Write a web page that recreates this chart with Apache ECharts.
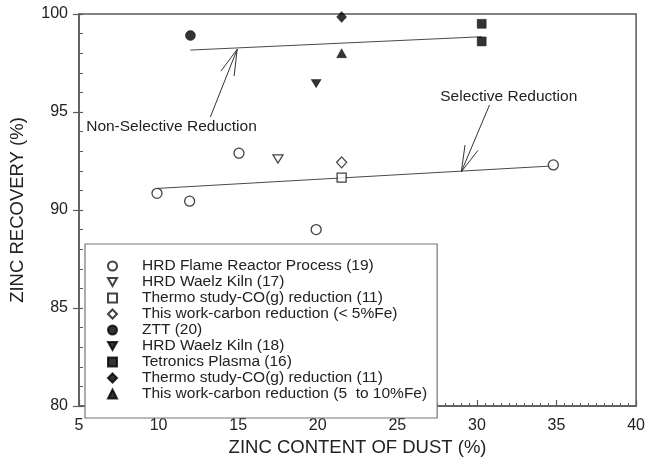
<!DOCTYPE html>
<html>
<head>
<meta charset="utf-8">
<script src="https://cdn.jsdelivr.net/npm/echarts@6/dist/echarts.min.js"></script>
<style>
  html, body { margin: 0; padding: 0; background: #fff; }
  #chart { width: 648px; height: 465px; }
</style>
</head>
<body>
<div id="chart"></div>
<script>
const FONT = '"Liberation Sans", Arial, Helvetica, sans-serif';
const AXIS_COLOR = '#5a5a5a';
const DOWN_TRIANGLE = 'path://M0,0 L10,0 L5,9 Z';

// Legend entries, in display order
const legendLabels = [
  'HRD Flame Reactor Process (19)',
  'HRD Waelz Kiln (17)',
  'Thermo study-CO(g) reduction (11)',
  'This work-carbon reduction (< 5%Fe)',
  'ZTT (20)',
  'HRD Waelz Kiln (18)',
  'Tetronics Plasma (16)',
  'Thermo study-CO(g) reduction (11)',
  'This work-carbon reduction (5  to 10%Fe)'
];
const markerShapes  = ['circle', DOWN_TRIANGLE, 'rect', 'diamond', 'circle', DOWN_TRIANGLE, 'rect', 'diamond', 'triangle'];
const markerFilled  = [false, false, false, false, true, true, true, true, true];
const markerSizes   = [[10, 10], [10, 9], [9, 9], [10, 11], [10, 10], [10, 9], [9, 9], [10, 11], [10, 9]];

// [zinc content of dust %, zinc recovery %]
const hrdFlameReactor   = [[9.9, 90.85], [11.95, 90.45], [15.05, 92.9], [19.9, 89.0], [34.8, 92.3]];
const hrdWaelz17        = [[17.5, 92.6]];
const thermoCOopen      = [[21.5, 91.65]];
const thisWorkLowFe     = [[21.5, 92.43]];
const ztt               = [[12.0, 98.9]];
const hrdWaelz18        = [[19.9, 96.45]];
const tetronicsPlasma   = [[30.3, 99.5], [30.3, 98.6]];
const thermoCOfilled    = [[21.5, 99.85]];
const thisWorkMidFe     = [[21.5, 98.0]];

const seriesPoints = [hrdFlameReactor, hrdWaelz17, thermoCOopen, thisWorkLowFe,
                      ztt, hrdWaelz18, tetronicsPlasma, thermoCOfilled, thisWorkMidFe];

// Fitted trend lines
const nonSelectiveFit = [[12.0, 98.16], [30.3, 98.84]];
const selectiveFit    = [[9.9, 91.1], [34.8, 92.25]];

// Callouts: [tipX, tipY, tailX, tailY, textX, textY]
const calloutText = ['Non-Selective Reduction', 'Selective Reduction'];
const calloutGeom = [
  [14.94, 98.2, 13.25, 94.74, 10.81, 94.25],
  [29.02, 91.95, 30.79, 95.36, 32.0, 95.77]
];

const legendKeys = legendLabels.map((_, i) => 'k' + i);

const scatterSeries = seriesPoints.map((pts, i) => ({
  type: 'scatter',
  name: legendKeys[i],
  data: pts,
  symbol: markerShapes[i],
  symbolSize: markerSizes[i],
  symbolKeepAspect: true,
  z: 5,
  itemStyle: markerFilled[i]
    ? { color: '#000', borderColor: '#000', borderWidth: 0.5 }
    : { color: '#fff', borderColor: '#111', borderWidth: 1.3 },
  emphasis: { disabled: true }
}));

function fitLine(pts) {
  return {
    type: 'line',
    data: pts,
    symbol: 'none',
    silent: true,
    z: 3,
    lineStyle: { color: '#4a4a4a', width: 1 }
  };
}

const calloutSeries = {
  type: 'custom',
  data: calloutGeom,
  silent: true,
  z: 4,
  clip: false,
  renderItem: function (params, api) {
    const tip = api.coord([api.value(0), api.value(1)]);
    const tail = api.coord([api.value(2), api.value(3)]);
    const txt = api.coord([api.value(4), api.value(5)]);
    const ang = Math.atan2(tail[1] - tip[1], tail[0] - tip[0]);
    const headLen = 27, spread = 15 * Math.PI / 180;
    const h1 = [tip[0] + headLen * Math.cos(ang - spread), tip[1] + headLen * Math.sin(ang - spread)];
    const h2 = [tip[0] + headLen * Math.cos(ang + spread), tip[1] + headLen * Math.sin(ang + spread)];
    const stroke = { stroke: '#333', lineWidth: 1, fill: null };
    return {
      type: 'group',
      children: [
        { type: 'line', shape: { x1: tail[0], y1: tail[1], x2: tip[0], y2: tip[1] }, style: stroke },
        { type: 'polyline', shape: { points: [h1, tip, h2] }, style: stroke },
        { type: 'text', x: txt[0], y: txt[1],
          style: { text: calloutText[params.dataIndex], font: '15.5px ' + FONT, fill: '#222',
                   align: 'center', verticalAlign: 'middle' } }
      ]
    };
  }
};

const chart = echarts.init(document.getElementById('chart'), null, { renderer: 'canvas' });
chart.setOption({
  animation: false,
  backgroundColor: '#fff',
  textStyle: { fontFamily: FONT },
  grid: {
    left: 79, right: 9, top: 14, bottom: 59,
    show: true, borderColor: AXIS_COLOR, borderWidth: 1.5, backgroundColor: 'transparent'
  },
  legend: {
    data: legendKeys,
    formatter: name => legendLabels[legendKeys.indexOf(name)],
    orient: 'vertical',
    left: 85, top: 244,
    padding: [14, 10, 16, 22],
    itemGap: 0,
    itemWidth: 9,
    itemHeight: 9,
    symbolKeepAspect: true,
    selectedMode: false,
    backgroundColor: '#fff',
    borderColor: '#777',
    borderWidth: 1.2,
    borderRadius: 0,
    textStyle: { fontFamily: FONT, fontSize: 15.5, color: '#222', lineHeight: 14, padding: [0, 0, 0, 20] }
  },
  xAxis: {
    type: 'value', min: 5, max: 40, interval: 5,
    name: 'ZINC CONTENT OF DUST (%)',
    nameLocation: 'middle', nameGap: 31,
    nameTextStyle: { fontSize: 18.5, color: '#222', fontFamily: FONT },
    axisLine: { show: true, lineStyle: { color: AXIS_COLOR, width: 1.5 } },
    axisTick: { show: true, inside: true, length: 6, lineStyle: { color: AXIS_COLOR, width: 1.2 } },
    minorTick: { show: true, splitNumber: 10, length: 3, lineStyle: { color: AXIS_COLOR, width: 1 } },
    splitLine: { show: false },
    axisLabel: { fontSize: 16, color: '#222', margin: 12, fontFamily: FONT }
  },
  yAxis: [
    {
      type: 'value', min: 80, max: 100, interval: 5,
      name: 'ZINC RECOVERY (%)',
      nameLocation: 'middle', nameGap: 52,
      nameTextStyle: { fontSize: 18.5, color: '#222', fontFamily: FONT },
      axisLine: { show: true, lineStyle: { color: AXIS_COLOR, width: 1.5 } },
      axisTick: { show: true, inside: true, length: 4, lineStyle: { color: AXIS_COLOR, width: 1.2 } },
      minorTick: { show: true, splitNumber: 5, length: 4, lineStyle: { color: AXIS_COLOR, width: 1 } },
      splitLine: { show: false },
      axisLabel: { fontSize: 16, color: '#222', margin: 11, fontFamily: FONT }
    },
    {
      // outward half of the major ticks on the left axis
      type: 'value', min: 80, max: 100, interval: 5, position: 'left',
      axisLine: { show: false },
      axisTick: { show: true, inside: false, length: 6, lineStyle: { color: AXIS_COLOR, width: 1.2 } },
      axisLabel: { show: false },
      splitLine: { show: false }
    }
  ],
  series: [fitLine(nonSelectiveFit), fitLine(selectiveFit), calloutSeries].concat(scatterSeries)
});
</script>
</body>
</html>
